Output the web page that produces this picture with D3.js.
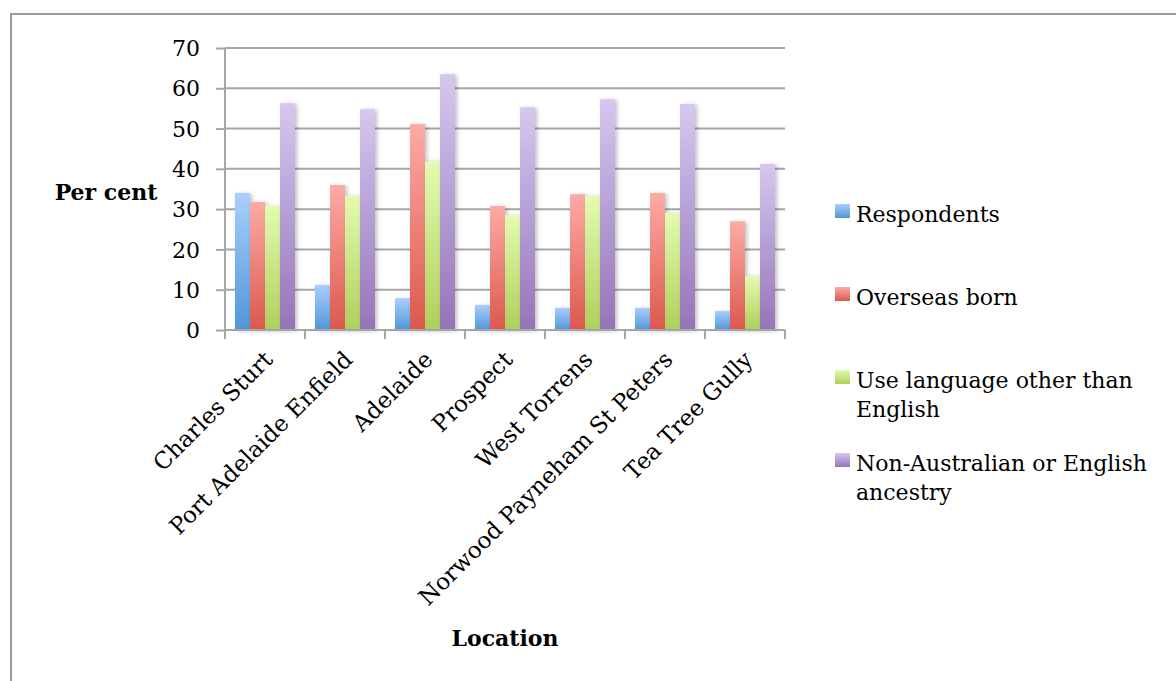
<!DOCTYPE html>
<html><head><meta charset="utf-8">
<script src="https://cdn.jsdelivr.net/npm/d3@7"></script>
<style>body{margin:0;background:#fff;} svg{display:block;}</style>
</head><body>
<svg id="c" width="1176" height="681"></svg>
<script>
const categories = ["Charles Sturt","Port Adelaide Enfield","Adelaide","Prospect","West Torrens","Norwood Payneham St Peters","Tea Tree Gully"];
const seriesNames = ["Respondents","Overseas born","Use language other than English","Non-Australian or English ancestry"];
const respondents = [34.0, 11.2, 7.9, 6.2, 5.5, 5.5, 4.7];
const overseasBorn = [31.8, 36.0, 51.1, 30.8, 33.7, 34.0, 27.0];
const otherLanguage = [30.8, 33.3, 41.9, 28.5, 33.2, 29.0, 13.4];
const nonAustralian = [56.3, 54.8, 63.5, 55.3, 57.3, 56.1, 41.2];
const yTicks = [0,10,20,30,40,50,60,70];
const legendLines = [["Respondents"],["Overseas born"],["Use language other than","English"],["Non-Australian or English","ancestry"]];

const seriesValues = [respondents, overseasBorn, otherLanguage, nonAustralian];
const gradTop = ["#aacffc","#fdaba6","#e3fcb0","#d7c6f0"];
const gradBot = ["#5196d9","#dc584d","#afcf5b","#9475b8"];

const svg = d3.select("#c");
const font = "'DejaVu Serif', serif";
const defs = svg.append("defs");
seriesNames.forEach((s,i)=>{
  const g = defs.append("linearGradient").attr("id","g"+i).attr("x1",0).attr("y1",0).attr("x2",0).attr("y2",1);
  g.append("stop").attr("offset","0%").attr("stop-color",gradTop[i]);
  g.append("stop").attr("offset","100%").attr("stop-color",gradBot[i]);
});
const f = defs.append("filter").attr("id","sh").attr("x","-30%").attr("y","-10%").attr("width","170%").attr("height","130%");
f.append("feDropShadow").attr("dx",2).attr("dy",1).attr("stdDeviation",2).attr("flood-color","#000").attr("flood-opacity",0.25);

// outer frame
svg.append("rect").attr("x",11).attr("y",14).attr("width",1200).attr("height",700)
  .attr("fill","none").attr("stroke","#9a9a9a").attr("stroke-width",2);

const pLeft=225, pRight=785, pTop=48, pBottom=330;
const x = d3.scaleBand().domain(categories).range([pLeft,pRight]);
const y = d3.scaleLinear().domain([0,70]).range([pBottom,pTop]);
const xs = d3.scaleBand().domain(d3.range(4)).range([0, 60]);

// gridlines
svg.append("g").selectAll("line").data(yTicks.filter(d=>d>0)).join("line")
  .attr("x1",pLeft).attr("x2",pRight).attr("y1",d=>y(d)).attr("y2",d=>y(d))
  .attr("stroke","#a6a6a6").attr("stroke-width",2);

// bars
const groups = svg.append("g").selectAll("g").data(categories).join("g")
  .attr("transform",d=>`translate(${x(d)+ (x.bandwidth()-60)/2},0)`);
groups.each(function(cat,ci){
  d3.select(this).selectAll("rect").data(seriesValues.map(s=>s[ci])).join("rect")
    .attr("x",(d,i)=>xs(i)).attr("width",xs.bandwidth())
    .attr("y",d=>y(d)).attr("height",d=>pBottom-y(d))
    .attr("fill",(d,i)=>`url(#g${i})`).attr("filter","url(#sh)");
});

// y axis
const yAxis = d3.axisLeft(y).tickValues(yTicks).tickSize(9).tickPadding(16);
const ya = svg.append("g").attr("transform",`translate(${pLeft},0)`).call(yAxis);
ya.select(".domain").attr("stroke","#a6a6a6").attr("stroke-width",2).attr("d",`M0,${pTop}V${pBottom}`);
ya.selectAll(".tick line").attr("stroke","#a6a6a6").attr("stroke-width",2);
ya.selectAll(".tick text").attr("font-family",font).attr("font-size",22).attr("fill","#000").attr("dy","0.35em");

// x axis
const xAxis = d3.axisBottom(x).tickSize(0).tickFormat("");
const xa = svg.append("g").attr("transform",`translate(0,${pBottom})`).call(xAxis);
xa.select(".domain").remove();
xa.append("line").attr("x1",pLeft).attr("x2",pRight).attr("stroke","#a6a6a6").attr("stroke-width",2);
const bounds = d3.range(categories.length+1).map(i=>pLeft+i*x.step());
xa.selectAll(".bt").data(bounds).join("line").attr("class","bt")
  .attr("x1",d=>d).attr("x2",d=>d).attr("y1",0).attr("y2",9).attr("stroke","#a6a6a6").attr("stroke-width",2);
svg.append("g").selectAll("text").data(categories).join("text")
  .attr("transform",d=>`translate(${x(d)+x.bandwidth()/2+9},${pBottom+31}) rotate(-45)`)
  .attr("text-anchor","end").attr("font-family",font).attr("font-size",23).attr("fill","#000").text(d=>d);

// axis titles
svg.append("text").attr("x",106).attr("y",200).attr("text-anchor","middle")
  .attr("font-family",font).attr("font-size",22).attr("font-weight","bold").text("Per cent");
svg.append("text").attr("x",(pLeft+pRight)/2).attr("y",646).attr("text-anchor","middle")
  .attr("font-family",font).attr("font-size",22).attr("font-weight","bold").text("Location");

// legend
const lg = svg.append("g").selectAll("g").data(seriesNames).join("g")
  .attr("transform",(d,i)=>`translate(835,${204+i*83})`);
lg.append("rect").attr("width",15).attr("height",14).attr("fill",(d,i)=>`url(#g${i})`);
lg.append("text").attr("x",21).attr("y",18).attr("font-family",font).attr("font-size",22).attr("fill","#000")
  .selectAll("tspan").data((d,i)=>legendLines[i]).join("tspan")
  .attr("x",21).attr("dy",(d,j)=>j===0?0:29).text(d=>d);
</script>
</body></html>
